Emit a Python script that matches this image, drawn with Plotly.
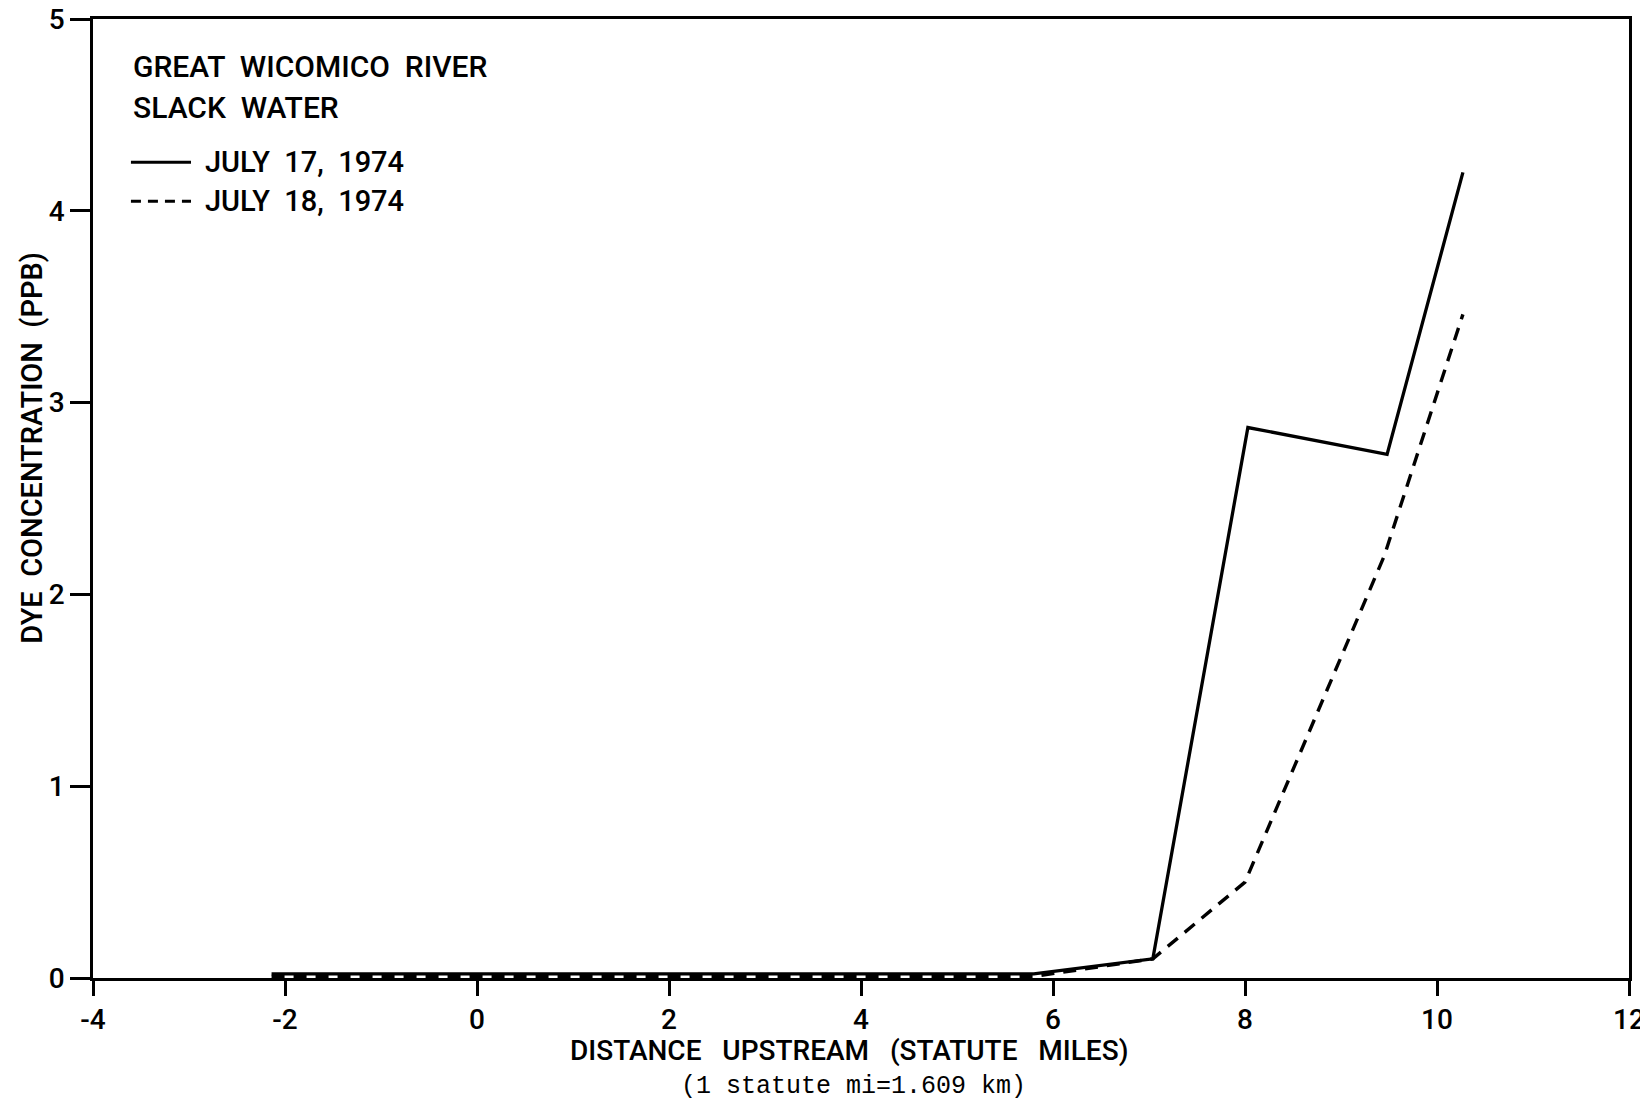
import plotly.graph_objects as go

# July 17, 1974 (solid)
x_jul17 = [-2.14, 5.8, 7.04, 8.03, 9.48, 10.27]
y_jul17 = [0.022, 0.022, 0.10, 2.87, 2.73, 4.20]
# July 18, 1974 (dashed)
x_jul18 = [-2.14, 5.8, 7.04, 8.0, 9.45, 10.27]
y_jul18 = [0.008, 0.008, 0.10, 0.50, 2.20, 3.46]

x_ticks = [-4, -2, 0, 2, 4, 6, 8, 10, 12]
x_tick_labels = ["-4", "-2", "0", "2", "4", "6", "8", "10", "12"]
y_ticks = [0, 1, 2, 3, 4, 5]
y_tick_labels = ["0", "1", "2", "3", "4", "5"]

FONT = "Roboto"
W = 500

fig = go.Figure()
fig.add_trace(go.Scatter(x=x_jul18, y=y_jul18, mode="lines",
                         line=dict(color="black", width=3.4, dash="13px,9px"),
                         name="JULY 18, 1974", showlegend=False))
fig.add_trace(go.Scatter(x=x_jul17, y=y_jul17, mode="lines",
                         line=dict(color="black", width=3.3),
                         name="JULY 17, 1974", showlegend=False))

# page body has an 8px margin; plot area targets 93..1629 x 19..978 in the window
fig.update_layout(
    width=1640, height=1093,
    margin=dict(l=85, r=19, t=11, b=123),
    paper_bgcolor="white", plot_bgcolor="white",
    font=dict(family=FONT, color="black"),
    showlegend=False,
)
fig.update_xaxes(range=[-4, 12], tickvals=x_ticks, ticktext=x_tick_labels,
                 ticks="outside", ticklen=15, tickwidth=2.5, tickcolor="black",
                 showline=True, linecolor="black", linewidth=2.5, mirror=True,
                 showgrid=False, zeroline=False, automargin=False,
                 ticklabeloverflow="allow",
                 tickfont=dict(size=28, family=FONT, weight=W))
fig.update_yaxes(range=[0, 5], tickvals=y_ticks, ticktext=y_tick_labels,
                 ticks="outside", ticklen=20, tickwidth=2.5, tickcolor="black",
                 showline=True, linecolor="black", linewidth=2.5, mirror=True,
                 showgrid=False, zeroline=False, automargin=False,
                 ticklabeloverflow="allow",
                 tickfont=dict(size=28, family=FONT, weight=W))

def tf(size=29, fam=FONT, w=W):
    return dict(size=size, family=fam, weight=w)

ann = []
ann.append(dict(text="GREAT  WICOMICO  RIVER", x=0.0247, y=0.950, xref="paper", yref="paper",
                xanchor="left", yanchor="middle", showarrow=False, font=tf(30)))
ann.append(dict(text="SLACK  WATER", x=0.0247, y=0.9073, xref="paper", yref="paper",
                xanchor="left", yanchor="middle", showarrow=False, font=tf(30)))
ann.append(dict(text="JULY  17,  1974", x=0.0716, y=0.8507, xref="paper", yref="paper",
                xanchor="left", yanchor="middle", showarrow=False, font=tf()))
ann.append(dict(text="JULY  18,  1974", x=0.0716, y=0.8100, xref="paper", yref="paper",
                xanchor="left", yanchor="middle", showarrow=False, font=tf()))
ann.append(dict(text="DISTANCE   UPSTREAM   (STATUTE   MILES)", x=0.492, y=-0.076, xref="paper", yref="paper",
                xanchor="center", yanchor="middle", showarrow=False, font=tf(28)))
ann.append(dict(text="(1 statute mi=1.609 km)", x=0.495, y=-0.1135, xref="paper", yref="paper",
                xanchor="center", yanchor="middle", showarrow=False, font=tf(25, "Liberation Mono", 400)))
ann.append(dict(text="DYE  CONCENTRATION  (PPB)", x=-0.0397, y=0.553, xref="paper", yref="paper",
                xanchor="center", yanchor="middle", showarrow=False, textangle=-90,
                font=tf()))
fig.update_layout(annotations=ann)

fig.add_shape(type="line", xref="paper", yref="paper", x0=0.0247, x1=0.0638, y0=0.8507, y1=0.8507,
              line=dict(color="black", width=3))
fig.add_shape(type="line", xref="paper", yref="paper", x0=0.0247, x1=0.0638, y0=0.8100, y1=0.8100,
              line=dict(color="black", width=3, dash="10px,7px"))

fig.write_html("out.html")
